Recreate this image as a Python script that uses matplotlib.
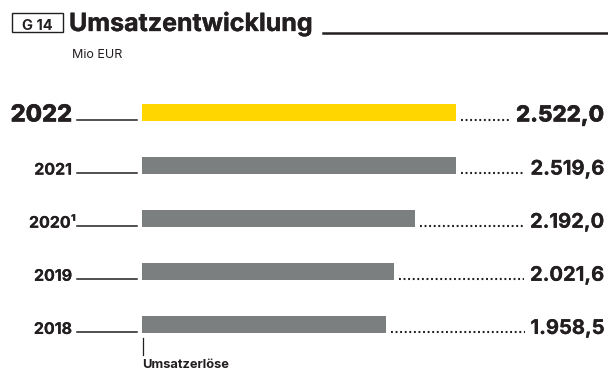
import matplotlib
matplotlib.use("Agg")
import matplotlib.pyplot as plt
import matplotlib.patheffects as pe
from matplotlib.lines import Line2D
from matplotlib.patches import Rectangle
from matplotlib.transforms import blended_transform_factory

# Umsatzerlöse in Mio EUR
years = ["2022", "2021", "2020¹", "2019", "2018"]
revenue = [2522.0, 2519.6, 2192.0, 2021.6, 1958.5]
value_labels = ["2.522,0", "2.519,6", "2.192,0", "2.021,6", "1.958,5"]
highlight = [True, False, False, False, False]

TEXT = "#231f20"
YELLOW = "#ffd600"
GREY = "#7b7f7f"

plt.rcParams["font.family"] = ["Inter", "DejaVu Sans"]

W, H = 608, 372
fig = plt.figure(figsize=(W / 100, H / 100), dpi=100)

def fx(px):
    return px / W

def fy(py):
    return 1 - py / H

def heavy(w):
    return [pe.withStroke(linewidth=w, foreground=TEXT)]

# plotting area: zero line at x=142px, rows 53px apart
row = 53.1
top = 112.5 - row / 2
ax = fig.add_axes([fx(142), fy(top + 5 * row), 1 - fx(142), 5 * row / H])
ax.set_xlim(0, 3740)
ax.set_ylim(4.5, -0.5)
ax.axis("off")

pos = list(range(len(years)))
colors = [YELLOW if h else GREY for h in highlight]
bar_h = 0.32
ax.barh(pos, revenue, height=bar_h, color=colors, edgecolor="none")

trans = blended_transform_factory(fig.transFigure, ax.transData)
base_off = bar_h / 2 + 0.01

value_texts = []
for i, (yr, val, lab, hl) in enumerate(zip(years, revenue, value_labels, highlight)):
    yb = i + base_off
    # year label + leader line
    ax.text(fx(76) if "¹" in yr else fx(72), yb, yr, transform=trans,
            ha="right", va="baseline", color=TEXT,
            fontsize=17 if hl else 11.5, fontweight="heavy" if hl else "bold",
            path_effects=heavy(0.3 if hl else 0.1))
    ax.add_line(Line2D([fx(77), fx(137)], [yb - 0.03, yb - 0.03], transform=trans,
                       color=TEXT, lw=1.1, clip_on=False))
    t = ax.text(fx(604), yb, lab, transform=trans, ha="right", va="baseline",
                color=TEXT, fontsize=16 if hl else 14.5,
                fontweight="heavy" if hl else "bold",
                path_effects=heavy(0.3 if hl else 0.15))
    value_texts.append(t)

fig.canvas.draw()
renderer = fig.canvas.get_renderer()
for i, (val, t) in enumerate(zip(revenue, value_texts)):
    yb = i + base_off
    x_end_px = ax.transData.transform((val, 0))[0] + 5
    x_txt_px = t.get_window_extent(renderer).x0 - 6
    ax.add_line(Line2D([x_end_px / W, x_txt_px / W], [yb - 0.03, yb - 0.03],
                       transform=trans, color=TEXT, lw=1.5,
                       linestyle=(0, (0.9, 1.3)), clip_on=False))

# axis stub and caption
ax.add_line(Line2D([fx(142.5), fx(142.5)], [fy(338), fy(355)],
                   transform=fig.transFigure, color=TEXT, lw=0.9, clip_on=False))
fig.text(fx(142), fy(368.5), "Umsatzerlöse", ha="left", va="baseline",
         color=TEXT, fontsize=9.3, fontweight="bold")

# header
fig.patches.append(Rectangle((fx(12), fy(32)), fx(51), 19 / H,
                             transform=fig.transFigure, fill=False,
                             edgecolor=TEXT, lw=1.0))
fig.text(fx(37.5), fy(29.5), "G 14", ha="center", va="baseline",
         color=TEXT, fontsize=10.5, fontweight="bold")
title = fig.text(fx(69), fy(31), "Umsatzentwicklung", ha="left", va="baseline",
                 color=TEXT, fontsize=18, fontweight="bold", path_effects=heavy(0.25))
fig.canvas.draw()
tx1 = title.get_window_extent(renderer).x1
fig.add_artist(Line2D([(tx1 + 10) / W, 1], [fy(33), fy(33)],
                      transform=fig.transFigure, color=TEXT, lw=1.8))
fig.text(fx(72), fy(58), "Mio EUR", ha="left", va="baseline",
         color=TEXT, fontsize=9)

fig.savefig("out.png", dpi=100)
